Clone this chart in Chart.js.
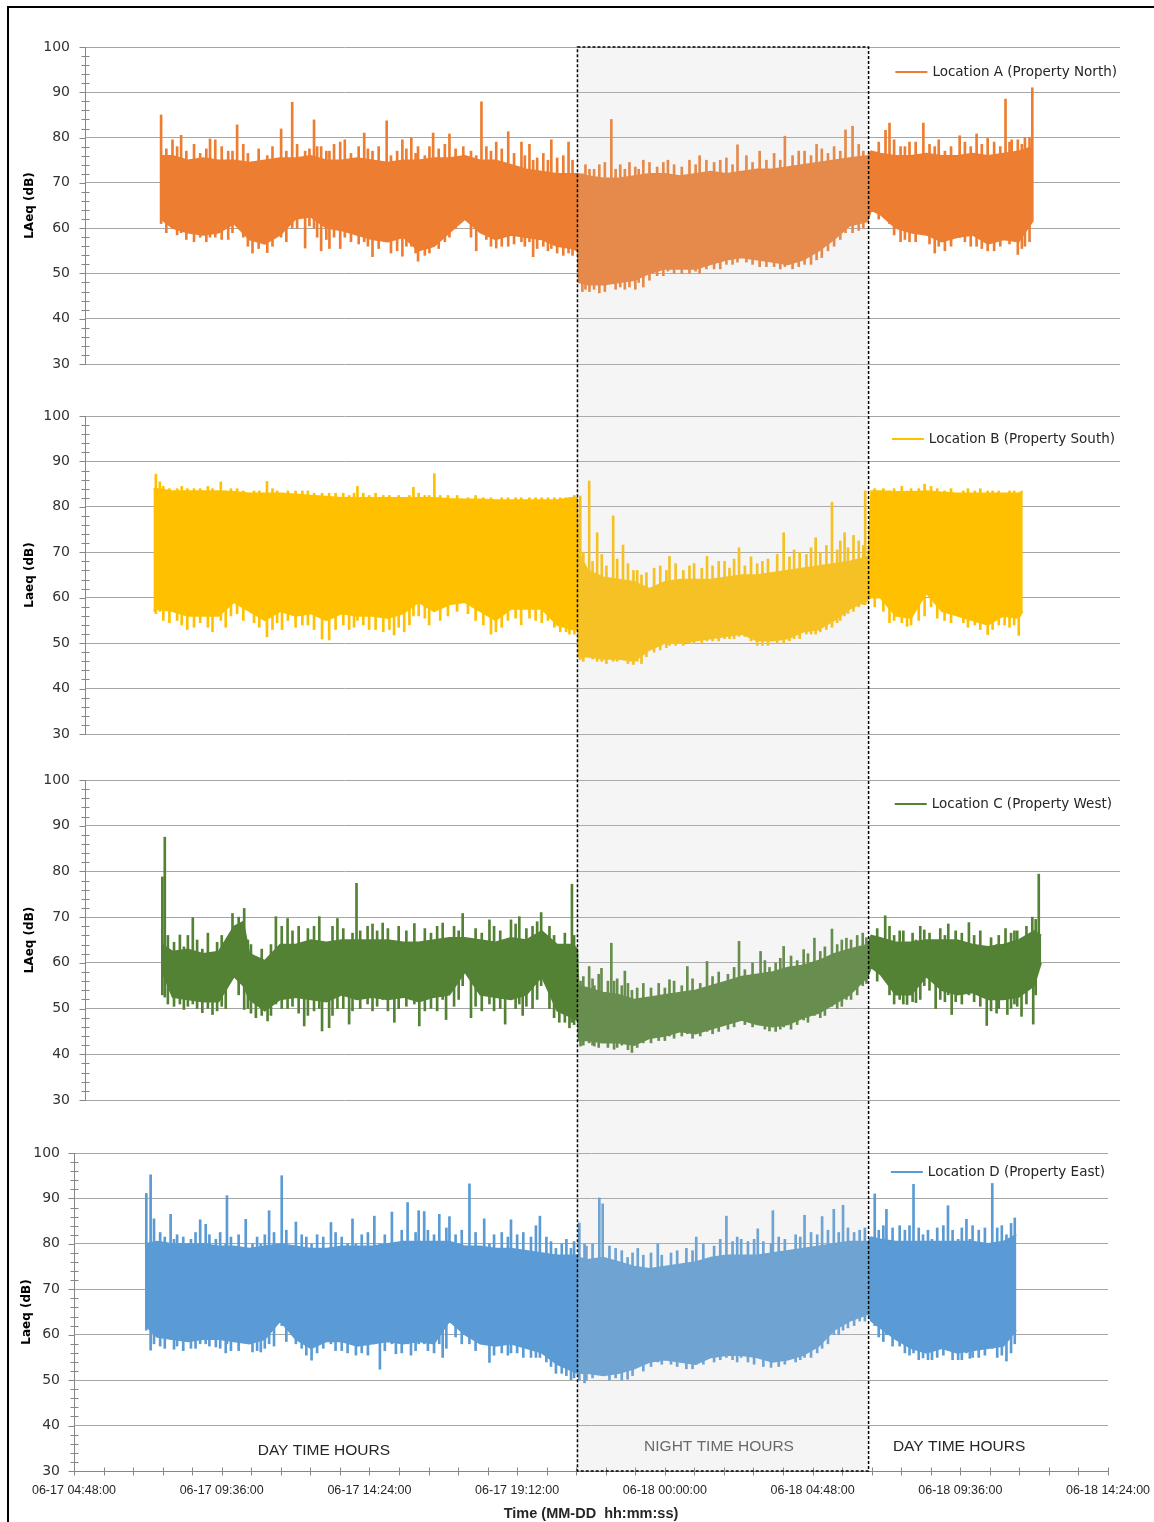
<!DOCTYPE html>
<html>
<head>
<meta charset="utf-8">
<title>LAeq monitoring</title>
<script src="https://cdn.jsdelivr.net/npm/chart.js@4.4.0/dist/chart.umd.min.js"></script>
<style>
  html, body { margin: 0; padding: 0; background: #fff; }
  #page { position: relative; width: 1154px; height: 1522px; overflow: hidden; }
  #page canvas { position: absolute; left: 0; }
  #frame { position: absolute; left: 7px; top: 6px; width: 1170px; height: 1540px; border: 2px solid #000; box-sizing: border-box; }
  #overlay { position: absolute; left: 0; top: 0; z-index: 5; }
</style>
</head>
<body>
<div id="page">
  <div id="frame"></div>
  <svg id="overlay" width="1154" height="1522">
    <rect id="night" fill="rgba(200,200,200,0.18)" stroke="#000" stroke-width="1.5" stroke-dasharray="3 2"></rect>
  </svg>
</div>
<script>
// x values are hours counted from 06-17 00:00
const xTickHours = [4.8, 9.6, 14.4, 19.2, 24, 28.8, 33.6, 38.4];
const xTickLabels = ['06-17 04:48:00', '06-17 09:36:00', '06-17 14:24:00', '06-17 19:12:00',
                     '06-18 00:00:00', '06-18 04:48:00', '06-18 09:36:00', '06-18 14:24:00'];
const nightStart = 21.16;
const nightEnd = 30.62;

// dense part of each record: [hour, low dB, high dB]
const aBand = [
  [7.63, 62, 76], [8, 60, 76], [8.5, 59, 75], [9, 58.5, 75.5], [9.5, 59, 75], [10, 61, 75],
  [10.5, 57.5, 74.5], [11, 56.5, 75], [11.5, 58.5, 75.5], [12, 62, 75.5], [12.5, 62.5, 76],
  [13, 60, 75], [13.5, 59.5, 75], [14, 58.5, 75.5], [14.5, 57.5, 75], [15, 57, 74.5],
  [15.5, 58, 75], [16, 55, 75], [16.5, 56, 75.5], [17, 59, 75.5], [17.5, 62, 76], [18, 59, 75],
  [18.5, 57.5, 75], [19, 58.5, 74], [19.5, 58, 73], [20, 57.5, 72.5], [20.5, 56, 72],
  [21, 55.5, 72], [21.16, 55, 72], [21.2, 48, 72], [21.5, 47.5, 71.5], [22, 47.5, 71],
  [22.5, 48, 71], [23, 48.5, 71.5], [23.5, 50, 72], [24, 51, 72], [24.5, 51, 71.5], [25, 51, 72],
  [25.5, 52, 72.5], [26, 53, 72], [26.5, 53.5, 72.5], [27, 53, 73], [27.5, 52.5, 73],
  [28, 52, 73.5], [28.5, 53, 74], [29, 55, 74.5], [29.5, 57.5, 75], [30, 60.5, 75.5],
  [30.6, 61.5, 76], [30.7, 64, 77], [31, 63, 76.5], [31.5, 60, 76], [32, 59, 76],
  [32.5, 58.5, 76.5], [33, 57, 76], [33.5, 58, 76], [34, 58.5, 76.5], [34.5, 56.5, 76],
  [35, 57.5, 76.5], [35.5, 57, 77], [35.95, 61.5, 78]
];
const bBand = [
  [7.38, 57, 84], [7.5, 57.5, 84], [8, 57, 83.5], [8.5, 56, 83.5], [9, 56, 83.5], [9.5, 56, 83.5],
  [10, 59, 83.3], [10.5, 57, 83], [11, 55, 83], [11.5, 57, 83], [12, 56, 82.8], [12.5, 56.5, 82.5],
  [13, 55, 82.3], [13.5, 56.5, 82], [14, 56, 82], [14.5, 56, 82], [15, 55.5, 82], [15.5, 56.5, 82],
  [16, 59, 82], [16.5, 57, 82], [17, 58.5, 81.8], [17.5, 59, 81.7], [18, 57, 81.7], [18.5, 55, 81.5],
  [19, 57.5, 81.5], [19.5, 57.5, 81.5], [20, 57.5, 81.5], [20.5, 54, 81.5], [21, 53, 82],
  [21.16, 53, 82], [21.2, 47, 70], [21.5, 47, 66], [22, 46.5, 64.5], [22.5, 46.5, 64],
  [23, 46, 63.5], [23.5, 48.5, 62], [24, 50, 63.5], [24.5, 50, 64], [25, 50.5, 64], [25.5, 51, 64],
  [26, 51.5, 64.5], [26.5, 52, 65], [27, 50.5, 65], [27.5, 50.5, 65.5], [28, 51, 66],
  [28.5, 52.5, 66.5], [29, 53, 67], [29.5, 55, 67.5], [30, 57.5, 68], [30.6, 59.5, 69],
  [30.7, 60, 83.5], [31, 60, 83.5], [31.5, 56, 83.3], [32, 55.5, 83.3], [32.5, 61, 83.5],
  [33, 57, 83.2], [33.5, 56, 83], [34, 55, 83], [34.5, 54, 83], [35, 56, 83], [35.5, 55.5, 83],
  [35.63, 57, 83.5]
];
const cBand = [
  [7.67, 58, 64], [8, 52.5, 62.5], [8.5, 52, 63], [9, 51.5, 62], [9.5, 51.5, 62.5], [10, 57, 68],
  [10.3, 55, 69], [10.5, 52, 62], [11, 49.5, 60.5], [11.5, 52, 64], [12, 52.5, 64], [12.5, 52, 65],
  [13, 51.5, 64.5], [13.5, 53, 65], [14, 52, 65], [14.5, 52.5, 65], [15, 52, 65], [15.5, 52.5, 64.5],
  [16, 51.5, 64.5], [16.5, 52.5, 65], [17, 53, 65.5], [17.5, 58, 65.5], [18, 53, 65],
  [18.5, 52.5, 64.5], [19, 52, 65.5], [19.5, 53, 65], [20, 57, 67], [20.5, 49.5, 64], [21, 48, 64],
  [21.16, 47.5, 63], [21.2, 43, 55], [21.5, 43, 54.5], [22, 42.5, 53.5], [22.5, 42.5, 53],
  [23, 42, 52], [23.5, 43.5, 52.5], [24, 44, 53], [24.5, 45, 53.5], [25, 44.5, 54], [25.5, 45.5, 55],
  [26, 46.5, 56], [26.5, 47.5, 57], [27, 46.5, 57.5], [27.5, 46, 58], [28, 46.5, 59],
  [28.5, 48, 59.5], [29, 49, 60.5], [29.5, 51, 62], [30, 53, 63], [30.6, 57, 64], [30.7, 59, 66],
  [31, 57.5, 65.5], [31.5, 53, 64.5], [32, 53, 64.5], [32.5, 57, 65], [33, 54, 65], [33.5, 53, 65],
  [34, 53.5, 64], [34.5, 52, 63.5], [35, 52, 64], [35.5, 52.5, 65], [36, 55, 67], [36.23, 60, 66]
];
const dBand = [
  [7.13, 62, 80], [7.5, 59.5, 80.5], [8, 59, 80], [8.5, 58.5, 80], [9, 59, 80], [9.5, 59, 79.5],
  [10, 58.5, 79.5], [10.5, 58, 79], [11, 59, 79.5], [11.5, 63, 80], [12, 59, 79.5], [12.5, 57, 79],
  [13, 58.5, 79], [13.5, 58.5, 79.5], [14, 57.5, 79.5], [14.5, 58, 79.5], [15, 58.5, 80],
  [15.5, 58, 80.5], [16, 58.5, 80.5], [16.5, 58, 80.5], [17, 63, 80.5], [17.5, 60, 79.5],
  [18, 58, 79.5], [18.5, 57.5, 79], [19, 58, 79], [19.5, 57, 78.5], [20, 56, 78], [20.5, 53.5, 77.5],
  [21, 52, 77.5], [21.16, 51.5, 77.5], [21.2, 51.5, 77], [21.5, 51.5, 76.5], [22, 51, 77],
  [22.5, 51.5, 76], [23, 52.5, 75], [23.5, 54, 74.5], [24, 54.5, 75], [24.5, 54, 75.5],
  [25, 53.5, 76], [25.5, 55, 77], [26, 55.5, 77.5], [26.5, 55.5, 77.5], [27, 55, 77.5],
  [27.5, 54, 78], [28, 54.5, 78.5], [28.5, 55.5, 79], [29, 57.5, 79.5], [29.5, 61, 80],
  [30, 63, 80.5], [30.6, 64.5, 80.5], [30.7, 63, 81.5], [31, 61.5, 81], [31.5, 59, 80.5],
  [32, 57, 80.5], [32.5, 56, 80.5], [33, 57, 80.5], [33.5, 56, 80.5], [34, 56.5, 80.5],
  [34.5, 57, 80], [35, 57.5, 80.5], [35.42, 61, 82]
];

// tall excursions outside the dense part: [hour, min dB, max dB]
const aSpikes = [
  [7.63, 61, 85], [8.0, 60, 79.5], [8.28, 59, 80.5], [9.22, 58, 79.7], [9.39, 58, 79.5],
  [9.81, 57.5, 77], [10.1, 61, 82.8], [10.6, 54.5, 74], [11.08, 54.6, 76], [11.53, 58, 81.9],
  [11.89, 60, 87.8], [12.31, 55.6, 77], [12.6, 60, 83.9], [12.83, 55, 78], [13.1, 55.5, 77],
  [13.45, 55.5, 79], [13.6, 58, 79.5], [14.23, 57, 81], [14.5, 53.7, 77], [14.96, 57, 83.7],
  [15.1, 54.5, 76], [15.47, 53.8, 79.5], [15.76, 56, 80], [15.98, 52.7, 78], [16.2, 54, 76],
  [16.47, 57, 81], [17.0, 58, 80.8], [17.87, 55, 76], [18.04, 60, 87.9], [18.52, 55.6, 79],
  [18.91, 56, 81.3], [19.34, 57, 79], [19.6, 57, 78.5], [19.72, 53.7, 75], [20.31, 55.5, 79.5],
  [20.87, 54.5, 79], [21.32, 46, 72], [21.55, 46, 73], [21.87, 45.7, 74], [22.26, 48, 84],
  [22.7, 46.5, 73], [23.04, 46.5, 73.5], [23.3, 47, 75], [24.1, 50.5, 75], [25.13, 50, 76],
  [25.8, 51, 75], [26.36, 52.5, 78.4], [27.08, 51.5, 77], [27.9, 51.5, 80.3], [28.54, 52, 77],
  [28.93, 53, 78.5], [29.87, 59, 81.7], [30.1, 59, 82.5], [31.17, 63, 81.6], [31.3, 61, 83.2],
  [31.66, 57, 78], [31.95, 57, 79], [32.4, 60, 83.2], [32.77, 54.5, 78], [33.1, 55, 77],
  [33.58, 58, 80.4], [33.94, 56, 78], [34.13, 56, 80.8], [34.49, 55, 79.8], [35.07, 58, 88.5],
  [35.27, 58, 79.5], [35.47, 54.2, 79.5], [35.7, 56, 80], [35.94, 61.5, 91]
];
const bSpikes = [
  [7.46, 56.5, 87.2], [7.59, 57, 85.5], [8.48, 53, 84], [9.3, 52.5, 84], [9.57, 55, 85.5],
  [9.73, 53.5, 83.5], [10.82, 53.5, 83.5], [11.07, 51.4, 85.6], [11.56, 53, 83], [12.22, 54, 83.5],
  [12.86, 50.9, 83], [13.09, 50.7, 83], [13.74, 53, 82.5], [14.01, 55, 84.5], [14.39, 53, 82.5],
  [15.2, 51.8, 82], [15.53, 52.5, 82], [15.83, 56, 84.3], [16.34, 54, 82.5], [16.51, 57, 87.3],
  [18.35, 52, 82], [18.51, 52.5, 81.5], [19.33, 54, 82], [20.41, 53.5, 82], [20.79, 52.5, 82],
  [21.06, 52, 82.5], [21.25, 46.4, 82.4], [21.54, 47, 85.7], [21.8, 46, 74.3], [22.32, 46, 78],
  [22.64, 46.5, 71.6], [22.98, 45.3, 66], [23.24, 45.5, 65], [24.15, 49.5, 69.1], [24.8, 50, 67],
  [25.37, 50.5, 69.1], [25.94, 51, 68], [26.41, 51.5, 71], [27.17, 49.5, 68], [27.86, 50, 74.3],
  [28.38, 51, 70], [28.9, 52, 73.2], [29.43, 53.5, 81], [29.84, 56, 74.3], [30.13, 57, 73.7],
  [30.51, 58.5, 83.5], [30.82, 58, 84], [31.3, 54.5, 83.5], [31.87, 53.7, 83.5], [32.44, 56, 85],
  [33.09, 55, 83.5], [34.07, 54, 83.5], [34.49, 51.9, 83.5], [35.04, 54, 83], [35.5, 51.7, 83]
];
const cSpikes = [
  [7.67, 53, 78.8], [7.75, 52.5, 87.5], [8.24, 51, 66.1], [8.37, 49.8, 63.5], [8.66, 51, 69.9],
  [8.97, 49.1, 63], [9.3, 48.7, 62], [9.73, 50, 63], [9.95, 57, 70.8], [10.33, 49.8, 71.9],
  [10.71, 48, 61], [11.09, 47.3, 60], [11.36, 51, 70.1], [11.74, 50, 69.7], [12.28, 46.2, 64],
  [12.77, 50, 70.1], [12.86, 45.1, 63], [13.09, 45.8, 63], [13.36, 50, 69.7], [13.74, 46.6, 64],
  [13.98, 52, 77.4], [14.34, 51, 68], [14.83, 52, 68.7], [15.21, 47, 64], [15.86, 51, 68.6],
  [16.02, 46.2, 63], [16.78, 52, 68.7], [16.89, 47.6, 64], [17.43, 55, 70.8], [17.7, 48, 64],
  [18.3, 51, 69.4], [18.81, 46.6, 63], [19.0, 52, 69.4], [19.27, 51, 70.1], [19.38, 48.5, 64],
  [19.98, 55, 71], [20.57, 47, 64], [20.9, 45.8, 63], [20.98, 47, 77.2], [21.26, 41.8, 56],
  [21.54, 42.5, 59.2], [21.71, 41.8, 55], [21.94, 42.5, 58.8], [22.26, 43, 64.3], [22.35, 41.1, 56],
  [22.7, 43, 58.2], [22.93, 40.4, 54], [24.15, 44, 56.3], [24.73, 44.5, 59.2], [25.37, 45, 60.3],
  [26.41, 48.4, 64.7], [27.11, 46.5, 62.5], [27.4, 45.1, 59], [27.86, 46, 63.6], [28.51, 47.5, 62.9],
  [28.86, 48.5, 65.4], [29.43, 50.5, 67.4], [29.9, 52, 65.4], [30.43, 55, 66.5], [31.16, 57, 70.3],
  [31.63, 52, 67], [31.87, 50.9, 63], [32.16, 51.3, 65], [32.43, 55, 67.2], [32.8, 50, 64],
  [33.21, 53, 68.5], [33.32, 48.7, 63], [33.88, 53, 68.8], [34.46, 46.3, 63], [34.78, 49, 64],
  [35.07, 53, 67.5], [35.13, 48.7, 63], [35.36, 51, 67], [35.59, 48.3, 63], [35.94, 55, 70],
  [35.97, 46.6, 62], [36.15, 60, 79.4]
];
const dSpikes = [
  [7.15, 61, 91.1], [7.29, 56.6, 95.2], [7.4, 58, 85.5], [7.94, 59, 86.5], [8.05, 56.8, 81],
  [8.6, 57, 81], [8.9, 58, 85.3], [9.08, 58, 84.3], [9.41, 57.3, 81], [9.73, 56, 80],
  [9.77, 58, 90.6], [10.38, 59, 85.4], [10.6, 56.2, 80], [10.87, 56.2, 80], [11.14, 58, 87.3],
  [11.55, 62, 95], [12.01, 58, 84.8], [12.52, 54.4, 80], [13.15, 58, 84.7], [13.69, 56, 80],
  [13.85, 58, 85.5], [13.96, 55.5, 80], [14.56, 58, 86.1], [14.74, 52.4, 80], [15.13, 58, 87],
  [15.26, 55.8, 80], [15.64, 58, 89.1], [15.75, 55.5, 80.5], [16.0, 58, 87.3], [16.18, 58, 87.1],
  [16.67, 58, 86.5], [16.78, 55, 80], [17.0, 64, 86], [17.65, 58, 93.2], [18.13, 58, 85.5],
  [18.3, 53.9, 80], [19.0, 56, 85.3], [19.81, 55, 84], [19.94, 55, 86.1], [20.46, 51.5, 79],
  [20.95, 50.1, 79], [21.22, 50, 84.6], [21.39, 49.4, 80], [21.87, 52, 90.1], [21.98, 52, 88.8],
  [22.79, 50.2, 77], [23.12, 53, 79], [23.77, 54, 80], [25.02, 53.5, 81.5], [26.0, 55, 86.1],
  [26.48, 55, 81], [27.02, 55, 83.3], [27.45, 52.8, 80], [27.51, 55, 87.3], [28.54, 55, 86.3],
  [29.11, 57, 86], [29.49, 60, 87.6], [29.79, 61, 88.5], [30.33, 63, 83], [30.82, 62, 91],
  [31.2, 60, 87.6], [31.63, 57.5, 84], [32.08, 56, 93.1], [32.39, 54.9, 82], [32.68, 54.5, 81],
  [33.2, 57, 88.4], [33.53, 54.5, 81], [33.8, 56, 85.4], [33.91, 54.8, 81], [34.64, 57, 93.3],
  [35.1, 54.2, 82], [35.37, 58, 85.7]
];

// short flicker along the edges of the dense part: [hour, min dB, max dB]
const aFlicker = [
  [7.8, 59, 77.5], [8.15, 58.5, 78], [8.45, 57.5, 77], [8.7, 57, 78.5], [8.9, 58, 76.5], [9.1, 57, 77.5],
  [9.6, 57.5, 78], [9.95, 59, 77], [10.3, 58, 78.5], [10.45, 56, 76.5], [10.8, 55.5, 77.5], [11.25, 56, 78],
  [11.7, 57, 77], [12.05, 60, 78.5], [12.45, 60.5, 77.5], [12.7, 58, 78], [13.0, 57.5, 77], [13.25, 58, 78.5],
  [13.8, 57, 76.5], [14.05, 56.5, 78], [14.35, 56, 77.5], [14.7, 55.5, 78], [15.3, 55, 77], [15.6, 56, 77.5],
  [15.9, 54.5, 76.5], [16.35, 54.5, 78], [16.65, 55.5, 77.5], [16.85, 57, 78.5], [17.2, 60, 77.5],
  [17.45, 62, 78], [17.7, 58, 77], [18.2, 57.5, 78], [18.35, 56, 77], [18.7, 56, 77.5], [19.1, 56.5, 76.5],
  [19.45, 56, 76], [19.85, 55.5, 75.5], [20.05, 56, 76.5], [20.2, 55, 75], [20.5, 54.5, 75.5],
  [20.7, 54, 76], [21.0, 54, 75], [21.42, 46.5, 74], [21.7, 46.5, 73], [22.05, 46, 74.5], [22.4, 46.5, 73],
  [22.55, 47, 74], [22.85, 47, 74.5], [23.15, 48, 73], [23.5, 48.5, 74.5], [23.75, 49.5, 73.5],
  [23.95, 49.5, 74.5], [24.3, 50, 74], [24.55, 50, 73.5], [24.8, 50, 75], [25.0, 50.5, 74], [25.35, 51, 75],
  [25.6, 51, 74.5], [26.0, 52, 75.5], [26.2, 52, 74], [26.65, 52.5, 76], [26.85, 52, 74.5], [27.3, 51.5, 75],
  [27.55, 51.5, 76.5], [27.75, 51, 75], [28.15, 51, 76], [28.35, 51.5, 77], [28.75, 52, 76],
  [29.1, 53.5, 77.5], [29.3, 55, 76.5], [29.5, 56, 78], [29.7, 57.5, 77], [30.3, 59.5, 78.5],
  [30.45, 60, 77], [30.95, 62, 79], [31.45, 58.5, 79.5], [31.8, 57.5, 78], [32.15, 57, 79],
  [32.6, 56.5, 78.5], [32.9, 56, 79.5], [33.3, 56, 78], [33.75, 57, 79], [34.3, 55.5, 78.5],
  [34.7, 55, 79], [34.9, 56, 78], [35.2, 56.5, 79], [35.6, 55.5, 78.5], [35.85, 57, 80]
];
const bFlicker = [
  [7.7, 55, 84.5], [7.9, 54.5, 84], [8.15, 55, 84], [8.3, 54, 84.5], [8.7, 53.5, 84], [8.9, 54.5, 84],
  [9.15, 53.5, 84.5], [9.9, 56, 84], [10.1, 56.5, 84], [10.3, 55, 83.5], [10.65, 54.5, 83.5], [11.25, 53, 84],
  [11.4, 54.5, 83.5], [11.75, 55, 83.5], [12.0, 53.5, 83.5], [12.4, 54, 83.5], [12.6, 53, 83], [13.3, 53, 83],
  [13.55, 54, 83], [13.9, 53.5, 83], [14.2, 54, 83], [14.6, 53, 83], [14.85, 52.5, 82.5], [15.05, 53, 82.5],
  [15.35, 53.5, 82.5], [15.7, 54, 82.5], [16.0, 56, 83], [16.2, 55.5, 82.5], [16.7, 55, 82.5],
  [16.95, 56, 82.5], [17.25, 57, 82.5], [17.6, 56.5, 82], [17.85, 55, 82.5], [18.1, 54, 82],
  [18.7, 53.5, 82], [18.9, 55, 82], [19.15, 55.5, 82], [19.6, 55.5, 82], [19.8, 55, 82], [20.0, 54.5, 82],
  [20.2, 55, 82], [20.6, 52.5, 82], [20.9, 52, 82], [21.35, 46, 70], [21.65, 46.5, 68], [21.95, 46, 69.5],
  [22.1, 45.5, 67], [22.45, 46, 68.5], [22.8, 45.5, 67.5], [23.1, 46, 66], [23.4, 47, 65.5],
  [23.65, 48, 66.5], [23.85, 48.5, 67], [24.05, 49, 66], [24.35, 49.5, 67.5], [24.6, 49.5, 66],
  [24.95, 50, 67.5], [25.2, 50, 66.5], [25.55, 50.5, 67], [25.75, 50.5, 68], [26.1, 51, 66.5],
  [26.25, 51, 68.5], [26.6, 51.5, 67], [26.8, 50.5, 69], [27.0, 49.5, 67.5], [27.35, 49.5, 68.5],
  [27.65, 50, 69.5], [28.05, 50.5, 69], [28.2, 51, 70.5], [28.6, 52, 69.5], [28.75, 52, 71],
  [29.05, 52.5, 70], [29.25, 53, 71.5], [29.6, 54.5, 70.5], [29.7, 55, 72.5], [29.95, 56.5, 71],
  [30.3, 58, 72.5], [30.45, 58.5, 71.5], [31.1, 57, 84], [31.45, 55, 84], [31.7, 54.5, 84.5],
  [32.0, 54, 84], [32.25, 55, 84], [32.65, 58, 84.5], [32.85, 55.5, 84], [33.3, 54.5, 84],
  [33.7, 54.5, 83.5], [33.85, 53.5, 84], [34.25, 53, 84], [34.65, 53, 83.5], [34.85, 54, 83.5],
  [35.2, 53.5, 83.5], [35.35, 54, 83.5]
];
const cFlicker = [
  [7.85, 51, 66], [8.05, 50.5, 64.5], [8.5, 50.5, 66], [8.8, 50, 65], [9.15, 50, 66.5], [9.45, 49.5, 64.5],
  [9.6, 50.5, 66], [10.15, 53, 70], [10.45, 50, 65], [10.55, 49, 64], [10.9, 48.5, 63], [11.2, 48.5, 64],
  [11.55, 50, 68], [11.9, 50.5, 67], [12.1, 49, 68], [12.4, 48.5, 67.5], [12.6, 49.5, 68], [13.2, 48.5, 68],
  [13.55, 50, 67.5], [13.85, 49.5, 66.5], [14.1, 50, 67], [14.5, 49.5, 68.5], [14.65, 50.5, 67],
  [15.0, 49.5, 67.5], [15.35, 50, 68], [15.6, 50.5, 67], [16.2, 49.5, 67.5], [16.4, 50, 66.5],
  [16.6, 49.5, 68], [17.15, 50.5, 68], [17.3, 52, 67], [17.85, 50.5, 67.5], [18.05, 49.5, 66.5],
  [18.45, 49.5, 68], [18.65, 50, 67], [19.15, 50, 68.5], [19.5, 50.5, 67.5], [19.7, 50, 68],
  [19.85, 52, 69], [20.25, 50, 68], [20.4, 48, 66], [20.75, 47, 66.5], [21.05, 46.5, 66],
  [21.35, 42, 57], [21.65, 42, 56.5], [21.85, 41.5, 57.5], [22.15, 41.5, 56], [22.45, 41.5, 56.5],
  [22.6, 42, 55], [22.8, 41, 55.5], [23.1, 41.5, 54.5], [23.3, 42.5, 55.5], [23.55, 42.5, 54.5],
  [23.8, 43, 55.5], [24.0, 43, 54.5], [24.3, 43.5, 56], [24.55, 44, 55], [24.9, 43.5, 56.5],
  [25.15, 44, 55.5], [25.55, 44.5, 57], [25.75, 45, 58], [26.05, 45.5, 57.5], [26.25, 46, 59],
  [26.6, 46.5, 58.5], [26.85, 46, 60], [27.25, 45.5, 60.5], [27.6, 45, 60], [27.75, 45.5, 61],
  [28.1, 45.5, 61.5], [28.3, 46.5, 60.5], [28.65, 47, 62], [29.05, 48, 62.5], [29.2, 48.5, 63.5],
  [29.6, 50, 64], [29.75, 50.5, 65], [30.05, 52, 65], [30.25, 53, 66], [30.55, 55.5, 65.5],
  [30.9, 56, 67.5], [31.3, 53, 68], [31.45, 51, 66], [31.75, 51, 67], [32.05, 51.5, 66.5], [32.3, 52, 68],
  [32.6, 54, 66.5], [32.95, 52, 67.5], [33.1, 51.5, 66], [33.45, 51.5, 67], [33.65, 51, 66.5],
  [34.05, 51.5, 66], [34.25, 50.5, 67], [34.6, 49.5, 65.5], [34.85, 50, 66], [35.25, 50, 66.5],
  [35.45, 50.5, 67], [35.75, 51, 68], [36.05, 53, 69.5]
];
const dFlicker = [
  [7.6, 57.5, 82.5], [7.75, 57, 81.5], [8.15, 57.5, 82], [8.35, 56.5, 81.5], [8.75, 57, 82.5], [9.2, 57.5, 82],
  [9.55, 57, 82.5], [9.9, 56.5, 81.5], [10.15, 56.5, 82], [10.75, 56.5, 81.5], [11.0, 57, 82],
  [11.3, 57.5, 82.5], [11.7, 58.5, 83], [12.2, 57, 82], [12.35, 55.5, 81.5], [12.7, 56, 82],
  [12.9, 57, 81.5], [13.3, 56.5, 82.5], [13.5, 56.5, 81.5], [14.15, 56, 82], [14.35, 55.5, 82.5],
  [14.9, 56.5, 82], [15.45, 56, 83], [15.9, 56.5, 82.5], [16.3, 56.5, 83], [16.5, 56, 82],
  [16.9, 57, 83.5], [17.2, 59.5, 82], [17.4, 58, 83], [17.85, 56.5, 82.5], [18.45, 55.5, 82],
  [18.7, 56, 82.5], [18.9, 55.5, 81.5], [19.2, 56, 82], [19.4, 55, 82.5], [19.65, 55, 81.5],
  [20.15, 54, 81.5], [20.3, 53, 80.5], [20.65, 51.5, 80], [20.8, 51, 81], [21.05, 50.5, 80.5],
  [21.45, 50, 79.5], [21.65, 50.5, 80], [22.2, 50, 79.5], [22.4, 50.5, 79], [22.6, 50, 78.5],
  [22.95, 51, 78], [23.3, 52, 77.5], [23.55, 53, 78], [23.9, 53.5, 77.5], [24.2, 53.5, 78],
  [24.4, 53, 78.5], [24.7, 52.5, 79], [24.9, 52.5, 78.5], [25.25, 53.5, 80], [25.6, 54, 79.5],
  [25.8, 54.5, 81], [26.2, 54.5, 80.5], [26.35, 54, 81.5], [26.7, 54, 80.5], [26.9, 53.5, 81],
  [27.2, 53, 80.5], [27.7, 53, 81.5], [27.9, 53.5, 81], [28.25, 54, 82], [28.4, 54.5, 81.5],
  [28.75, 55, 82.5], [28.95, 56, 82], [29.3, 58, 83], [29.65, 60, 82.5], [29.95, 61.5, 83.5],
  [30.15, 62, 82.5], [30.5, 63, 83.5], [30.95, 59.5, 83], [31.1, 58.5, 84], [31.4, 57.5, 83.5],
  [31.8, 56, 83], [31.95, 55.5, 84], [32.25, 54.5, 83.5], [32.55, 54.5, 83], [32.85, 55, 83.5],
  [33.05, 55.5, 84], [33.35, 54.5, 83], [33.65, 54.5, 83.5], [34.0, 55, 84], [34.2, 55, 83],
  [34.4, 55.5, 83.5], [34.8, 55, 83.5], [34.95, 55.5, 84], [35.25, 56, 84.5]
];

// text placed inside the last panel: [text, hour, dB, colour]
const periodNotes = [
  ['DAY TIME HOURS', 12.92, 34.4, '#262626'],
  ['NIGHT TIME HOURS', 25.76, 35.3, '#555555'],
  ['DAY TIME HOURS', 33.56, 35.3, '#262626']
];

const panels = [
  { label: 'Location A (Property North)', yTitle: 'LAeq (dB)', color: '#ED7D31', band: aBand, spikes: aSpikes, flicker: aFlicker,
    top: 47, bottom: 364, left: 85, right: 1120, xMin: 5.157, xMax: 38.79, tickPad: 15, titlePad: 23, legendRight: 3, legendDy: 25 },
  { label: 'Location B (Property South)', yTitle: 'Laeq (dB)', color: '#FFC000', band: bBand, spikes: bSpikes, flicker: bFlicker,
    top: 416, bottom: 734, left: 85, right: 1120, xMin: 5.157, xMax: 38.79, tickPad: 15, titlePad: 23, legendRight: 5, legendDy: 23 },
  { label: 'Location C (Property West)', yTitle: 'LAeq (dB)', color: '#548235', band: cBand, spikes: cSpikes, flicker: cFlicker,
    top: 780, bottom: 1100, left: 85, right: 1120, xMin: 5.157, xMax: 38.79, tickPad: 15, titlePad: 23, legendRight: 8, legendDy: 24 },
  { label: 'Location D (Property East)', yTitle: 'Laeq (dB)', color: '#5B9BD5', band: dBand, spikes: dSpikes, flicker: dFlicker,
    top: 1153, bottom: 1471, left: 74, right: 1108, xMin: 4.8, xMax: 38.4, tickPad: 14, titlePad: 20, legendRight: 3, legendDy: 19,
    showX: true }
];

const AXIS_GREY = '#868686';

const cornerLegend = {
  id: 'cornerLegend',
  afterDraw(chart, args, opts) {
    const { ctx, chartArea } = chart;
    const text = chart.data.datasets[0].label;
    ctx.save();
    ctx.font = '13.5px "DejaVu Sans", sans-serif';
    ctx.textBaseline = 'middle';
    const w = ctx.measureText(text).width;
    const tx = chartArea.right - opts.right - w;
    const ty = chartArea.top + opts.dy;
    ctx.fillStyle = '#262626';
    ctx.fillText(text, tx, ty);
    ctx.strokeStyle = opts.color;
    ctx.lineWidth = 2;
    ctx.beginPath();
    ctx.moveTo(tx - 37, ty);
    ctx.lineTo(tx - 5, ty);
    ctx.stroke();
    ctx.restore();
  }
};

// small tick marks crossing the axes (every 2 dB, every 57.6 minutes)
const axisMarks = {
  id: 'axisMarks',
  afterDraw(chart, args, opts) {
    const { ctx, chartArea, scales } = chart;
    ctx.save();
    ctx.strokeStyle = AXIS_GREY;
    ctx.lineWidth = 1;
    const ax = Math.round(chartArea.left) + 0.5;
    for (let v = 30; v <= 100; v += 2) {
      const py = Math.round(scales.y.getPixelForValue(v)) + 0.5;
      ctx.beginPath();
      if (v % 10 === 0) {
        ctx.moveTo(ax - 6, py);
        ctx.lineTo(ax, py);
      } else {
        ctx.moveTo(ax - 4, py);
        ctx.lineTo(ax + 4, py);
      }
      ctx.stroke();
    }
    if (opts.minorX) {
      const by = Math.round(chartArea.bottom) + 0.5;
      for (let k = 0; k <= 35; k++) {
        const px = Math.round(scales.x.getPixelForValue(4.8 + k * 0.96)) + 0.5;
        ctx.beginPath();
        ctx.moveTo(px, by - 4);
        ctx.lineTo(px, by + 4);
        ctx.stroke();
      }
    }
    ctx.restore();
  }
};

const periodText = {
  id: 'periodText',
  afterDraw(chart, args, opts) {
    if (!opts.show) return;
    const { ctx, scales } = chart;
    ctx.save();
    ctx.font = '15.5px "Liberation Sans", Arial, sans-serif';
    ctx.textAlign = 'center';
    ctx.textBaseline = 'middle';
    periodNotes.forEach(([text, h, db, col]) => {
      ctx.fillStyle = col;
      ctx.fillText(text, scales.x.getPixelForValue(h), scales.y.getPixelForValue(db));
    });
    ctx.restore();
  }
};

const page = document.getElementById('page');

function makePanel(p) {
  const padTop = 15;
  const padBottom = p.showX ? 0 : 15;
  const axisH = p.showX ? 60 : 0;
  const canvas = document.createElement('canvas');
  canvas.width = 1154;
  canvas.height = padTop + (p.bottom - p.top) + padBottom + axisH;
  canvas.style.top = (p.top - padTop) + 'px';
  page.insertBefore(canvas, document.getElementById('overlay'));

  const data = {
    datasets: [
      {
        label: p.label,
        data: p.band.map(r => ({ x: r[0], y: r[2] })),
        borderColor: p.color,
        backgroundColor: p.color,
        borderWidth: 1.5,
        pointRadius: 0,
        tension: 0,
        fill: '+1'
      },
      {
        label: p.label + ' low',
        data: p.band.map(r => ({ x: r[0], y: r[1] })),
        borderColor: p.color,
        borderWidth: 1.5,
        pointRadius: 0,
        tension: 0,
        fill: false
      },
      {
        type: 'bar',
        label: p.label + ' peaks',
        data: p.spikes.concat(p.flicker).map(r => ({ x: r[0], y: [r[1], r[2]] })),
        backgroundColor: p.color,
        borderWidth: 0,
        barThickness: 2
      }
    ]
  };

  const options = {
    responsive: false,
    animation: false,
    events: [],
    layout: { padding: { top: padTop, bottom: padBottom, left: 0, right: 1154 - p.right } },
    plugins: {
      legend: { display: false },
      tooltip: { enabled: false },
      cornerLegend: { right: p.legendRight, dy: p.legendDy, color: p.color },
      axisMarks: { minorX: !!p.showX },
      periodText: { show: !!p.showX }
    },
    scales: {
      x: {
        type: 'linear',
        min: p.xMin,
        max: p.xMax,
        offset: false,
        display: !!p.showX,
        grid: { display: false },
        border: { display: true, color: AXIS_GREY, width: 1 },
        afterFit: s => { s.height = axisH; s.paddingLeft = 0; s.paddingRight = 0; },
        ticks: {
          stepSize: 4.8,
          autoSkip: false,
          maxRotation: 0,
          padding: 4,
          color: '#262626',
          font: { family: '"Liberation Sans", Arial, sans-serif', size: 12.5 },
          callback: v => {
            const i = xTickHours.findIndex(h => Math.abs(h - v) < 0.01);
            return i >= 0 ? xTickLabels[i] : '';
          }
        },
        title: {
          display: true,
          text: 'Time (MM-DD  hh:mm:ss)',
          color: '#262626',
          font: { family: '"Liberation Sans", Arial, sans-serif', size: 14.5, weight: 'bold' },
          padding: { top: 0, bottom: 8 }
        }
      },
      y: {
        min: 30,
        max: 100,
        afterFit: s => { s.width = p.left; s.paddingTop = 0; s.paddingBottom = 0; },
        grid: { color: '#a6a6a6', lineWidth: 1, drawTicks: false },
        border: { color: AXIS_GREY, width: 1 },
        ticks: {
          stepSize: 10,
          padding: p.tickPad,
          color: '#333333',
          font: { family: '"DejaVu Sans", sans-serif', size: 14 }
        },
        title: {
          display: true,
          text: p.yTitle,
          color: '#000000',
          font: { family: '"DejaVu Sans", sans-serif', size: 12, weight: 'bold' },
          padding: { top: p.titlePad, bottom: 0 }
        }
      }
    }
  };

  const chart = new Chart(canvas, {
    type: 'line',
    data: data,
    options: options,
    plugins: [cornerLegend, axisMarks, periodText]
  });

  // nudge the layout if the plot box did not land where the panel wants it
  const a = chart.chartArea;
  const errTop = a.top - padTop;
  const errBottom = a.bottom - (canvas.height - axisH - padBottom);
  const errLeft = a.left - p.left;
  const errRight = a.right - p.right;
  if (errTop || errBottom || errLeft || errRight) {
    const pad = chart.options.layout.padding;
    pad.top = padTop - errTop;
    pad.bottom = padBottom + errBottom;
    pad.right = (1154 - p.right) + errRight;
    chart.update();
  }
  chart.$top = p.top - padTop;
  return chart;
}

const charts = panels.map(makePanel);

// shaded night window across all four panels
const first = charts[0];
const last = charts[charts.length - 1];
const x0 = last.scales.x.getPixelForValue(nightStart);
const x1 = last.scales.x.getPixelForValue(nightEnd);
const y0 = first.$top + first.chartArea.top;
const y1 = last.$top + last.chartArea.bottom;
const rect = document.getElementById('night');
rect.setAttribute('x', x0);
rect.setAttribute('y', y0);
rect.setAttribute('width', x1 - x0);
rect.setAttribute('height', y1 - y0);
</script>
</body>
</html>
